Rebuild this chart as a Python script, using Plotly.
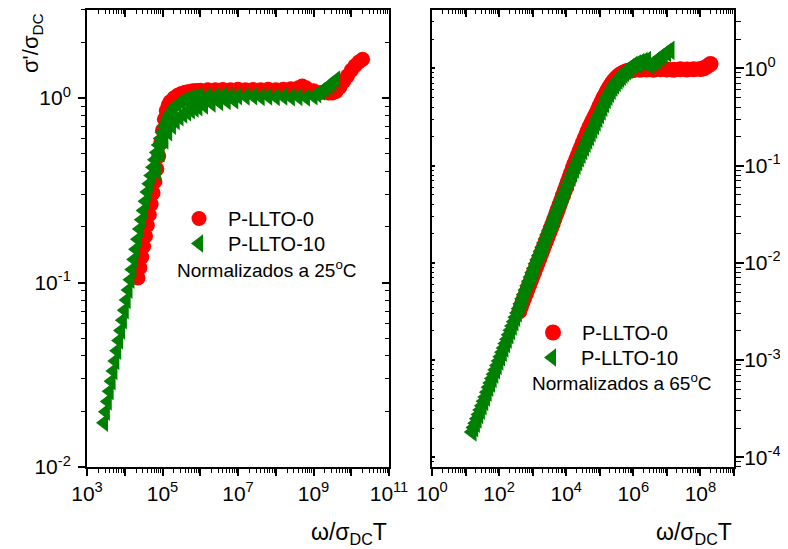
import plotly.graph_objects as go

# ---------------- data ----------------
# Left panel: normalized at 25 C
x_r25 = [2.239e4, 2.512e4, 2.818e4, 3.162e4, 3.548e4, 3.981e4, 4.467e4, 5.012e4, 5.623e4, 6.310e4,
         7.079e4, 7.943e4, 8.913e4, 1.0e5, 1.122e5, 1.259e5, 1.413e5, 1.585e5,
         1.995e5, 2.512e5, 3.162e5, 3.981e5, 5.012e5, 6.310e5, 7.943e5, 1.0e6,
         1.585e6, 2.512e6, 3.981e6, 6.310e6, 1.0e7, 1.585e7, 2.512e7, 3.981e7, 6.310e7, 1.0e8,
         1.585e8, 2.512e8,
         3.981e8, 5.012e8, 6.310e8, 1.0e9, 1.585e9, 2.512e9, 3.162e9, 3.981e9, 5.012e9, 6.310e9,
         7.943e9, 1.0e10, 1.259e10, 1.585e10, 1.995e10]
y_r25 = [0.1057, 0.1202, 0.1374, 0.1567, 0.1786, 0.2042, 0.2328, 0.2661, 0.3055, 0.3532,
         0.4121, 0.4842, 0.5689, 0.6683, 0.7674, 0.8511, 0.912, 0.955,
         1.0, 1.035, 1.059, 1.076, 1.086, 1.094, 1.099, 1.102,
         1.107, 1.109, 1.112, 1.109, 1.114, 1.109, 1.112, 1.107, 1.114, 1.109,
         1.117, 1.122,
         1.135, 1.161, 1.135, 1.096, 1.072, 1.064, 1.064, 1.084, 1.148, 1.23,
         1.318, 1.413, 1.496, 1.567, 1.622]

x_g25 = [2.818e3, 3.162e3, 3.548e3, 3.981e3, 4.467e3, 5.012e3, 5.623e3, 6.310e3, 7.079e3, 7.943e3,
         8.913e3, 1.0e4, 1.122e4, 1.259e4, 1.413e4, 1.585e4, 1.778e4, 1.995e4, 2.239e4, 2.512e4,
         2.818e4, 3.162e4, 3.548e4, 3.981e4, 4.467e4, 5.012e4, 5.623e4, 6.310e4, 7.079e4, 7.943e4,
         8.913e4, 1.0e5, 1.122e5, 1.259e5, 1.413e5, 1.585e5,
         1.995e5, 2.512e5, 3.162e5, 3.981e5, 5.012e5, 6.310e5, 7.943e5, 1.0e6,
         1.585e6, 2.512e6, 3.981e6, 6.310e6, 1.0e7, 1.585e7, 2.512e7, 3.981e7, 6.310e7, 1.0e8,
         1.585e8, 2.512e8, 3.981e8, 6.310e8, 1.0e9,
         1.259e9, 1.585e9, 1.995e9, 2.512e9, 3.162e9, 3.981e9]
y_g25 = [0.01738, 0.01995, 0.02265, 0.0257, 0.02917, 0.0331, 0.03758, 0.04266, 0.04842, 0.05495,
         0.06237, 0.07079, 0.08035, 0.0912, 0.1035, 0.1175, 0.1334, 0.1514, 0.1718, 0.195,
         0.2188, 0.2455, 0.2754, 0.309, 0.3428, 0.3802, 0.4217, 0.4624, 0.507, 0.5559,
         0.6026, 0.6531, 0.6998, 0.7413, 0.7852, 0.8222,
         0.881, 0.9226, 0.955, 0.977, 0.989, 1.0, 1.012, 1.019,
         1.023, 1.023, 1.028, 1.023, 1.023, 1.019, 1.023, 1.014, 1.019, 1.012,
         1.019, 1.009, 1.014, 1.007, 1.023,
         1.047, 1.084, 1.122, 1.161, 1.202, 1.259]
# lower branch of the P-LLTO-10 band around the knee (25 C)
x_g25_b = [7.079e4, 8.913e4, 1.122e5, 1.413e5, 1.778e5, 2.239e5, 2.818e5, 3.548e5, 4.467e5,
           5.623e5, 7.079e5, 8.913e5, 1.259e6, 1.995e6, 3.162e6, 5.012e6, 7.943e6]
y_g25_b = [0.3981, 0.5012, 0.5888, 0.6531, 0.7079, 0.7499, 0.7852, 0.8128, 0.8375,
           0.859, 0.877, 0.8913, 0.912, 0.9333, 0.9506, 0.9638, 0.9727]

# Right panel: normalized at 65 C
x_r65 = [398.1, 501.2, 631.0, 794.3, 1.0e3, 1.259e3, 1.585e3, 1.995e3, 2.512e3, 3.162e3,
         3.981e3, 5.012e3, 6.310e3, 7.943e3, 1.0e4, 1.259e4, 1.585e4, 1.995e4, 2.512e4, 3.162e4,
         3.981e4, 5.012e4, 6.310e4, 7.943e4, 1.0e5, 1.259e5, 1.585e5, 1.995e5, 2.512e5, 3.162e5,
         3.981e5, 5.012e5, 6.310e5, 7.943e5, 1.0e6,
         1.585e6, 2.512e6, 3.981e6, 6.310e6, 1.0e7, 1.585e7, 2.512e7, 3.981e7, 6.310e7, 1.0e8,
         1.259e8, 1.585e8, 1.995e8]
y_r65 = [3.162e-3, 3.936e-3, 4.842e-3, 5.957e-3, 7.328e-3, 9.016e-3, 0.01109, 0.01365, 0.01679, 0.02065,
         0.02541, 0.03162, 0.03936, 0.04898, 0.06095, 0.07586, 0.09441, 0.1161, 0.1413, 0.1718,
         0.2089, 0.2512, 0.2951, 0.3467, 0.4121, 0.4898, 0.5689, 0.6531, 0.7328, 0.8035,
         0.861, 0.9016, 0.9333, 0.9506, 0.9594,
         0.966, 0.9727, 0.966, 0.9772, 0.9727, 0.966, 0.9772, 0.9727, 0.9772, 0.9817,
         1.0, 1.047, 1.109]
# extra readings between the ones above (steep part, 65 C, P-LLTO-0)
x_r65_b = [446.7, 562.3, 707.9, 891.3, 1122, 1413, 1778, 2239, 2818, 3548, 4467, 5623, 7079, 8913,
           1.122e4, 1.413e4, 1.778e4, 2.239e4, 2.818e4, 3.548e4, 4.467e4, 5.623e4, 7.079e4, 8.913e4,
           1.122e5, 1.413e5, 1.778e5, 2.239e5, 2.818e5, 3.548e5, 4.467e5, 5.623e5, 7.079e5, 8.913e5]
y_r65_b = [3.528e-3, 4.366e-3, 5.371e-3, 6.607e-3, 8.128e-3, 0.01, 0.0123, 0.01514, 0.01862, 0.02291,
           0.02835, 0.03528, 0.04391, 0.05464, 0.068, 0.08463, 0.1047, 0.1281, 0.1558, 0.1894,
           0.2291, 0.2723, 0.3199, 0.378, 0.4493, 0.5279, 0.6095, 0.6918, 0.7673, 0.8318,
           0.881, 0.9173, 0.9419, 0.955]

x_g65 = [15.85, 19.95, 25.12, 31.62, 39.81, 50.12, 63.10, 79.43, 100.0,
         125.9, 158.5, 199.5, 251.2, 316.2, 398.1, 501.2, 631.0, 794.3, 1.0e3,
         1.259e3, 1.585e3, 1.995e3, 2.512e3, 3.162e3, 3.981e3, 5.012e3, 6.310e3, 7.943e3, 1.0e4,
         1.259e4, 1.585e4, 1.995e4, 2.512e4, 3.162e4, 3.981e4, 5.012e4, 6.310e4, 7.943e4, 1.0e5,
         1.259e5, 1.585e5, 1.995e5, 2.512e5, 3.162e5, 3.981e5, 5.012e5, 6.310e5, 7.943e5,
         1.0e6, 1.259e6, 1.585e6, 1.995e6, 2.512e6,
         3.162e6, 3.981e6, 5.012e6, 6.310e6, 7.943e6, 1.0e7, 1.259e7]
y_g65 = [1.820e-4, 2.239e-4, 2.754e-4, 3.388e-4, 4.169e-4, 5.248e-4, 6.457e-4, 7.943e-4, 9.772e-4,
         1.202e-3, 1.479e-3, 1.820e-3, 2.239e-3, 2.754e-3, 3.388e-3, 4.266e-3, 5.248e-3, 6.457e-3, 7.943e-3,
         9.772e-3, 0.01189, 0.01445, 0.01758, 0.02138, 0.026, 0.03162, 0.0389, 0.04732, 0.05754,
         0.06918, 0.08414, 0.1012, 0.1202, 0.1429, 0.1698, 0.1995, 0.2371, 0.2818, 0.335,
         0.3981, 0.4786, 0.5559, 0.6383, 0.7161, 0.7943, 0.871, 0.9441, 1.012,
         1.072, 1.109, 1.148, 1.175, 1.202,
         1.072, 1.135, 1.202, 1.288, 1.365, 1.445, 1.531]
# extra readings between the ones above (steep part, 65 C, P-LLTO-10)
x_g65_b = [17.78, 22.39, 28.18, 35.48, 44.67, 56.23, 70.79, 89.13,
           112.2, 141.3, 177.8, 223.9, 281.8, 354.8, 446.7, 562.3, 707.9, 891.3,
           1122, 1413, 1778, 2239, 2818, 3548, 4467, 5623, 7079, 8913,
           1.122e4, 1.413e4, 1.778e4, 2.239e4, 2.818e4, 3.548e4, 4.467e4, 5.623e4, 7.079e4, 8.913e4,
           1.122e5, 1.413e5, 1.778e5, 2.239e5, 2.818e5, 3.548e5, 4.467e5, 5.623e5, 7.079e5]
y_g65_b = [2.019e-4, 2.483e-4, 3.055e-4, 3.758e-4, 4.677e-4, 5.821e-4, 7.161e-4, 8.810e-4,
           1.084e-3, 1.333e-3, 1.641e-3, 2.019e-3, 2.483e-3, 3.055e-3, 3.802e-3, 4.732e-3, 5.821e-3, 7.161e-3,
           8.810e-3, 0.01078, 0.01311, 0.01594, 0.01939, 0.02358, 0.02867, 0.03507, 0.0429, 0.05218,
           0.06309, 0.0763, 0.09228, 0.1103, 0.1311, 0.1558, 0.184, 0.2175, 0.2585, 0.3072,
           0.3652, 0.4365, 0.5158, 0.5957, 0.6761, 0.7542, 0.8318, 0.9068, 0.9775]

series_names = ["P-LLTO-0", "P-LLTO-10"]
notes = ["Normalizados a 25<sup>o</sup>C", "Normalizados a 65<sup>o</sup>C"]
x_title = "ω/σ<sub>DC</sub>T"
y_title = "σ'/σ<sub>DC</sub>"

left_x_decades = list(range(3, 12))
right_x_decades = list(range(0, 10))
left_y_decades = [-2, -1, 0]
right_y_decades = [-4, -3, -2, -1, 0]

assert len(x_r25) == len(y_r25) and len(x_g25) == len(y_g25) and len(x_g25_b) == len(y_g25_b)
assert len(x_r65) == len(y_r65) and len(x_g65) == len(y_g65)
assert len(x_r65_b) == len(y_r65_b) and len(x_g65_b) == len(y_g65_b)

RED = "#FF0000"
GREEN = "#008000"
FONT = "Arial, Liberation Sans, sans-serif"
OFF = 8                      # page body margin
W, H = 788 - OFF, 549 - OFF  # figure size so it fills the window


def px_x(p):  # window pixel -> paper fraction
    return (p - OFF) / W


def px_y(p):
    return 1 - (p - OFF) / H


def lab(e, show=True):
    return f"10<sup>{e}</sup>" if show else ""


fig = go.Figure()
fig.add_trace(go.Scatter(x=x_r25, y=y_r25, mode="markers", name=series_names[0],
                         marker=dict(symbol="circle", size=15, color=RED, line=dict(width=0)),
                         xaxis="x", yaxis="y", legend="legend"))
fig.add_trace(go.Scatter(x=x_g25 + x_g25_b, y=y_g25 + y_g25_b, mode="markers", name=series_names[1],
                         marker=dict(symbol="triangle-left", size=16, color=GREEN, line=dict(width=0)),
                         xaxis="x", yaxis="y", legend="legend3"))
fig.add_trace(go.Scatter(x=x_r65 + x_r65_b, y=y_r65 + y_r65_b, mode="markers", name=series_names[0],
                         marker=dict(symbol="circle", size=16, color=RED, line=dict(width=0)),
                         xaxis="x2", yaxis="y2", legend="legend2"))
fig.add_trace(go.Scatter(x=x_g65 + x_g65_b, y=y_g65 + y_g65_b, mode="markers", name=series_names[1],
                         marker=dict(symbol="triangle-left", size=17, color=GREEN, line=dict(width=0)),
                         xaxis="x2", yaxis="y2", legend="legend4"))
# empty traces so the mirror (top/right) axes get drawn
for xa, ya in (("x3", "y3"), ("x4", "y4")):
    fig.add_trace(go.Scatter(x=[None], y=[None], xaxis=xa, yaxis=ya, mode="markers",
                             showlegend=False, hoverinfo="skip"))

LDOM = [px_x(87), px_x(389)]
RDOM = [px_x(432), px_x(734)]
YDOM = [px_y(467), px_y(10)]

tickfont = dict(family=FONT, size=21, color="black")
common = dict(type="log", showgrid=False, zeroline=False, showline=True, linecolor="black",
              linewidth=2, tickcolor="black", tickwidth=1.5, tickfont=tickfont, automargin=False)


def minor(direction, length):
    return dict(ticks=direction, ticklen=length, dtick="D1", tickcolor="black", tickwidth=1.2,
                showgrid=False)


lx_vals = [10.0 ** e for e in left_x_decades]
lx_text = [lab(e, (e % 2) == 1) for e in left_x_decades]
rx_vals = [10.0 ** e for e in right_x_decades]
rx_text = [lab(e, (e % 2) == 0) for e in right_x_decades]
ly_vals = [10.0 ** e for e in left_y_decades]
ly_text = [lab(e) for e in left_y_decades]
ry_vals = [10.0 ** e for e in right_y_decades]
ry_text = [lab(e) for e in right_y_decades]

LXR = [3, 11]
RXR = [0, 9]
LYR = [-2, 0.477]
RYR = [-4.1, 0.6]


def legend_at(sym_x, sym_y):
    return dict(x=px_x(sym_x - 30), y=px_y(sym_y - 19), xanchor="left", yanchor="top",
                bgcolor="rgba(0,0,0,0)", borderwidth=0,
                font=dict(family=FONT, size=20, color="black"),
                itemsizing="trace", tracegroupgap=0, itemwidth=48)


fig.update_layout(
    template="none",
    width=W, height=H,
    margin=dict(l=0, r=0, t=0, b=0, pad=0, autoexpand=False),
    paper_bgcolor="white", plot_bgcolor="white",
    font=dict(family=FONT, size=19, color="black"),
    xaxis=dict(**common, domain=LDOM, range=LXR, anchor="y", side="bottom",
               tickmode="array", tickvals=lx_vals, ticktext=lx_text,
               ticks="outside", ticklen=7, minor=minor("outside", 4)),
    xaxis3=dict(**common, domain=LDOM, range=LXR, anchor="y3", overlaying="x", side="top",
                tickmode="array", tickvals=lx_vals, showticklabels=False,
                ticks="inside", ticklen=7, minor=minor("inside", 4)),
    yaxis=dict(**common, domain=YDOM, range=LYR, anchor="x", side="left",
               tickmode="array", tickvals=ly_vals, ticktext=ly_text, ticklabelstandoff=3,
               ticks="outside", ticklen=7, minor=minor("outside", 4)),
    yaxis3=dict(**common, domain=YDOM, range=LYR, anchor="x3", overlaying="y", side="right",
                tickmode="array", tickvals=ly_vals, showticklabels=False,
                ticks="inside", ticklen=7, minor=minor("inside", 4)),
    xaxis2=dict(**common, domain=RDOM, range=RXR, anchor="y2", side="bottom",
                tickmode="array", tickvals=rx_vals, ticktext=rx_text,
                ticks="outside", ticklen=7, minor=minor("outside", 4)),
    xaxis4=dict(**common, domain=RDOM, range=RXR, anchor="y4", overlaying="x2", side="top",
                tickmode="array", tickvals=rx_vals, showticklabels=False,
                ticks="inside", ticklen=7, minor=minor("inside", 4)),
    yaxis2=dict(**common, domain=YDOM, range=RYR, anchor="x2", side="right",
                tickmode="array", tickvals=ry_vals, ticktext=ry_text, ticklabelstandoff=-4,
                ticks="outside", ticklen=8, minor=minor("outside", 5)),
    yaxis4=dict(**common, domain=YDOM, range=RYR, anchor="x4", overlaying="y2", side="left",
                tickmode="array", tickvals=ry_vals, showticklabels=False,
                ticks="inside", ticklen=3, minor=minor("inside", 2)),
    legend=legend_at(200, 218),
    legend3=legend_at(200, 243),
    legend2=legend_at(554, 332),
    legend4=legend_at(553, 357),
    showlegend=True,
)

annos = [
    dict(text=notes[0], x=px_x(175), y=px_y(269), xanchor="left", yanchor="middle"),
    dict(text=notes[1], x=px_x(530), y=px_y(382), xanchor="left", yanchor="middle"),
    dict(text=x_title, x=px_x(389), y=px_y(517), xanchor="right", yanchor="top",
         font=dict(family=FONT, size=23, color="black")),
    dict(text=x_title, x=px_x(734), y=px_y(517), xanchor="right", yanchor="top",
         font=dict(family=FONT, size=23, color="black")),
    dict(text=y_title, x=px_x(32), y=px_y(43), xanchor="center", yanchor="middle", textangle=-90,
         font=dict(family=FONT, size=22, color="black")),
]
for a in annos:
    a.setdefault("font", dict(family=FONT, size=19, color="black"))
    fig.add_annotation(xref="paper", yref="paper", showarrow=False, **a)

fig.write_html("out.html")
